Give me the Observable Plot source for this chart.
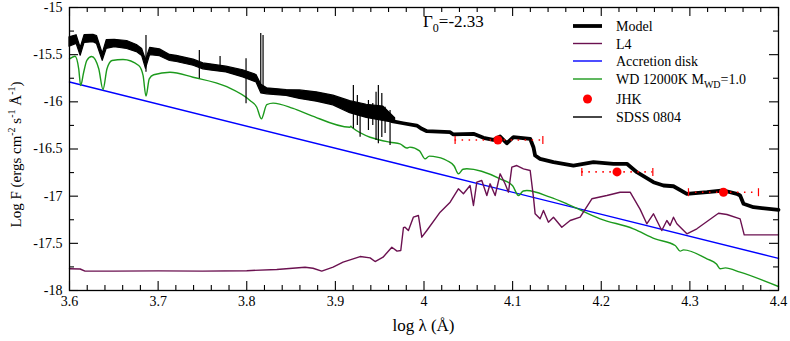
<!DOCTYPE html>
<html><head><meta charset="utf-8">
<script src="https://cdn.jsdelivr.net/npm/d3@7"></script>
<script src="https://cdn.jsdelivr.net/npm/@observablehq/plot@0.6"></script>
<style>
body{margin:0;background:#fff}
#chart svg, #chart svg text{font-family:"Liberation Serif","Times New Roman",Times,Tinos,"Noto Serif","DejaVu Serif",FreeSerif,serif !important}
</style>
</head><body><div id="chart"></div>
<script>
// ---------- data ----------
const xMajor = [3.6,3.7,3.8,3.9,4.0,4.1,4.2,4.3,4.4];
const xTickLabels = ["3.6","3.7","3.8","3.9","4","4.1","4.2","4.3","4.4"];
const xMinor = [3.62,3.64,3.66,3.68,3.72,3.74,3.76,3.78,3.82,3.84,3.86,3.88,3.92,3.94,3.96,3.98,
                4.02,4.04,4.06,4.08,4.12,4.14,4.16,4.18,4.22,4.24,4.26,4.28,4.32,4.34,4.36,4.38];
const yMajor = [-18,-17.5,-17,-16.5,-16,-15.5,-15];
const yTickLabels = ["-18","-17.5","-17","-16.5","-16","-15.5","-15"];
const yMinor = [-17.75,-17.25,-16.75,-16.25,-15.75,-15.25];

// Accretion disk
const diskX = [3.6, 4.0, 4.4];
const diskY = [-15.79, -16.725, -17.66];

// WD 12000K
const wdX = [3.6,3.6062,3.6104,3.6126,3.616,3.6196,3.6251,3.633,3.6378,3.6423,3.648,3.6604,3.6781,3.683,3.6863,3.69,3.695,3.7134,3.7394,3.7774,3.8037,3.8113,3.8165,3.8226,3.8297,3.8523,3.8714,3.9165,3.9175,3.9185,3.9616,3.9729,3.9806,3.984,3.995,4.0012,4.006,4.0103,4.0257,4.034,4.0388,4.044,4.0483,4.0859,4.1,4.1066,4.112,4.116,4.1423,4.1612,4.1988,4.2363,4.2608,4.2834,4.289,4.2928,4.3192,4.33,4.3342,4.3399,4.3567,4.4];
const wdY = [-15.544,-15.516,-15.65,-15.827,-15.686,-15.56,-15.52,-15.65,-15.869,-15.65,-15.562,-15.552,-15.615,-15.72,-15.94,-15.756,-15.713,-15.686,-15.739,-15.84,-15.986,-16.057,-16.18,-16.03,-16.014,-16.07,-16.14,-16.269,-16.258,-16.27,-16.428,-16.445,-16.49,-16.48,-16.52,-16.604,-16.575,-16.578,-16.622,-16.68,-16.763,-16.715,-16.71,-16.816,-16.89,-16.993,-16.945,-16.94,-17.011,-17.081,-17.24,-17.346,-17.452,-17.523,-17.583,-17.569,-17.664,-17.72,-17.77,-17.76,-17.806,-17.958];

// L4 brown dwarf
const l4X = [3.6,3.612,3.6175,3.65,3.7,3.75,3.8,3.8339,3.8658,3.8748,3.8846,3.8974,3.9087,3.9279,3.9392,3.9448,3.9538,3.9637,3.9696,3.9738,3.9768,3.9786,3.9824,3.988,3.9937,3.9975,4.0032,4.0182,4.0295,4.0388,4.0445,4.052,4.0558,4.0596,4.0652,4.0709,4.0746,4.0803,4.0859,4.0915,4.0953,4.0991,4.1047,4.1122,4.1198,4.1235,4.1254,4.131,4.1348,4.1404,4.1461,4.1555,4.1649,4.1762,4.1894,4.2063,4.2213,4.2326,4.2439,4.2514,4.2589,4.2627,4.2683,4.274,4.2777,4.2815,4.2853,4.2966,4.3079,4.3323,4.3418,4.3567,4.3613,4.4];
const l4Y = [-17.77,-17.772,-17.795,-17.795,-17.792,-17.795,-17.79,-17.777,-17.753,-17.764,-17.795,-17.753,-17.7,-17.64,-17.654,-17.693,-17.647,-17.541,-17.583,-17.576,-17.335,-17.329,-17.364,-17.223,-17.205,-17.435,-17.364,-17.17,-17.064,-16.922,-16.975,-16.887,-17.099,-16.852,-16.834,-16.993,-16.869,-16.993,-16.763,-16.869,-16.958,-16.693,-16.675,-16.71,-16.728,-17.011,-17.187,-17.24,-17.152,-17.276,-17.223,-17.329,-17.258,-17.223,-17.028,-16.993,-16.958,-16.958,-17.14,-17.293,-17.187,-17.258,-17.364,-17.258,-17.311,-17.223,-17.293,-17.399,-17.346,-17.181,-17.194,-17.24,-17.41,-17.41];

// Model (sum)
const modelX = [3.9637,3.9764,3.9919,3.9975,4.0032,4.0295,4.0332,4.0558,4.0671,4.0783,4.0859,4.0934,4.1009,4.1198,4.1235,4.1254,4.131,4.1461,4.1686,4.1912,4.2138,4.2289,4.2402,4.2589,4.2702,4.2815,4.2966,4.3192,4.3379,4.353,4.3567,4.3605,4.3718,4.4];
const modelY = [-16.205,-16.227,-16.251,-16.286,-16.311,-16.322,-16.346,-16.339,-16.381,-16.403,-16.368,-16.439,-16.375,-16.392,-16.481,-16.569,-16.604,-16.64,-16.675,-16.64,-16.657,-16.657,-16.746,-16.852,-16.887,-16.895,-16.975,-16.958,-16.94,-16.975,-16.993,-17.081,-17.117,-17.145];

// SDSS 0804 spectrum: noisy band (upper / lower envelope) and spikes
const sdssX  = [3.6,3.608,3.6126,3.617,3.627,3.631,3.6375,3.642,3.651,3.665,3.676,3.682,3.6863,3.691,3.702,3.7134,3.721,3.74,3.751,3.759,3.777,3.796,3.811,3.8165,3.823,3.845,3.86,3.879,3.8978,3.9166,3.9354,3.9542,3.9674];
const sdssHi = [-15.297,-15.276,-15.413,-15.276,-15.276,-15.286,-15.474,-15.329,-15.329,-15.339,-15.382,-15.424,-15.541,-15.413,-15.43,-15.49,-15.5,-15.54,-15.58,-15.59,-15.615,-15.65,-15.7,-15.8,-15.845,-15.862,-15.862,-15.88,-15.915,-15.968,-16.004,-16.021,-16.163];
const sdssLo = [-15.435,-15.403,-15.527,-15.392,-15.382,-15.403,-15.58,-15.456,-15.435,-15.456,-15.488,-15.53,-15.668,-15.519,-15.53,-15.58,-15.59,-15.63,-15.668,-15.68,-15.7,-15.756,-15.81,-15.93,-15.933,-15.95,-15.986,-16.018,-16.057,-16.145,-16.198,-16.233,-16.233];
const spikeX  = [3.6863,3.7465,3.7699,3.7992,3.8158,3.8184,3.9203,3.9248,3.9279,3.9373,3.9422,3.9459,3.9485,3.9524,3.9561,3.9617];
const spikeHi = [-15.297,-15.456,-15.519,-15.544,-15.276,-15.297,-15.827,-15.933,-16.057,-15.986,-16.018,-15.898,-15.827,-15.912,-16.057,-16.092];
const spikeLo = [-15.686,-15.756,-15.668,-16.021,-15.88,-15.859,-16.286,-16.251,-16.375,-16.304,-16.251,-16.41,-16.445,-16.378,-16.336,-16.463];

// JHK photometry
const jhkX  = [4.0834, 4.2178, 4.3379];
const jhkY  = [-16.405, -16.743, -16.958];
const jhkLo = [4.0351, 4.1781, 4.2984];
const jhkHi = [4.1341, 4.2582, 4.3774];

const legendLabels = ["Model","L4","Accretion disk","WD 12000K M","JHK","SDSS 0804"];

// ---------- build ----------
const pts = (xs, ys) => xs.map((x, i) => ({x, y: ys[i]}));
const disk = pts(diskX, diskY), wd = pts(wdX, wdY), l4 = pts(l4X, l4Y), model = pts(modelX, modelY);
const sdss = sdssX.map((x, i) => {
  const m = (sdssHi[i] + sdssLo[i]) / 2, h = (sdssHi[i] - sdssLo[i]) / 2;
  return {x, hi: m + 0.72 * h, lo: m - 0.72 * h};
});
const spikes = spikeX.map((x, i) => ({x, hi: spikeHi[i], lo: spikeLo[i]}));
const jhk = jhkX.map((x, i) => ({x, y: jhkY[i], lo: jhkLo[i], hi: jhkHi[i]}));
const caps = jhk.flatMap(d => [{x: d.lo, y: d.y}, {x: d.hi, y: d.y}]);

const W = 790, H = 341, mL = 69, mR = 12, mT = 7, mB = 51;
const PW = W - mL - mR, PH = H - mT - mB;
const C = {model: "#000", l4: "#6b1150", disk: "#0000ff", wd: "#1c9a1c", jhk: "#ff0000", sdss: "#000"};
const xLab = new Map(xMajor.map((v, i) => [v, xTickLabels[i]]));
const yLab = new Map(yMajor.map((v, i) => [v, yTickLabels[i]]));
const vbar = {draw(ctx, size) { const h = Math.sqrt(size / Math.PI); ctx.moveTo(0, -h); ctx.lineTo(0, h); }};
const serif = '"Liberation Serif","Times New Roman",Times,Tinos,"Noto Serif","DejaVu Serif",serif';

const chart = Plot.plot({
  width: W, height: H, marginLeft: mL, marginRight: mR, marginTop: mT, marginBottom: mB,
  style: {fontFamily: serif, fontSize: "14px", background: "#fff", color: "#000"},
  x: {domain: [3.6, 4.4]},
  y: {domain: [-18, -15]},
  marks: [
    Plot.line(disk, {x: "x", y: "y", stroke: C.disk, strokeWidth: 1.4}),
    Plot.line(wd, {x: "x", y: "y", stroke: C.wd, strokeWidth: 1.4, curve: "monotone-x"}),
    Plot.line(l4, {x: "x", y: "y", stroke: C.l4, strokeWidth: 1.4}),
    Plot.areaY(sdss, {x: "x", y1: "lo", y2: "hi", fill: C.sdss, stroke: C.sdss, strokeWidth: 1.2}),
    Plot.ruleX(spikes, {x: "x", y1: "lo", y2: "hi", stroke: C.sdss, strokeWidth: 1.2}),
    Plot.line(model, {x: "x", y: "y", stroke: C.model, strokeWidth: 3.8, strokeLinejoin: "round"}),
    Plot.ruleY(jhk, {x1: "lo", x2: "hi", y: "y", stroke: C.jhk, strokeWidth: 1.6, strokeDasharray: "1.5,5.5"}),
    Plot.dot(caps, {x: "x", y: "y", symbol: vbar, r: 4, stroke: C.jhk, strokeWidth: 1.2}),
    Plot.dot(jhk, {x: "x", y: "y", r: 4.5, fill: C.jhk, stroke: "none"}),
    Plot.ruleX(xMajor, {x: d => d, insetTop: PH - 9, stroke: "#000", strokeWidth: 1.1}),
    Plot.ruleX(xMinor, {x: d => d, insetTop: PH - 5, stroke: "#000", strokeWidth: 1.1}),
    Plot.ruleX(xMajor, {x: d => d, insetBottom: PH - 9, stroke: "#000", strokeWidth: 1.1}),
    Plot.ruleX(xMinor, {x: d => d, insetBottom: PH - 5, stroke: "#000", strokeWidth: 1.1}),
    Plot.ruleY(yMajor, {y: d => d, insetRight: PW - 9, stroke: "#000", strokeWidth: 1.1}),
    Plot.ruleY(yMinor, {y: d => d, insetRight: PW - 5, stroke: "#000", strokeWidth: 1.1}),
    Plot.ruleY(yMajor, {y: d => d, insetLeft: PW - 9, stroke: "#000", strokeWidth: 1.1}),
    Plot.ruleY(yMinor, {y: d => d, insetLeft: PW - 5, stroke: "#000", strokeWidth: 1.1}),
    Plot.axisX(xMajor, {tickSize: 0, tickPadding: 6, tickFormat: d => xLab.get(d), label: null, fontSize: 14}),
    Plot.axisY(yMajor, {tickSize: 0, tickPadding: 7, tickFormat: d => yLab.get(d), label: null, fontSize: 14}),
    Plot.frame({stroke: "#000", strokeWidth: 1.3})
  ]
});
document.getElementById("chart").appendChild(chart);

// ---------- text: labels, title, legend ----------
const svg = d3.select(chart);

svg.append("text").attr("x", mL + PW / 2).attr("y", 331).attr("text-anchor", "middle")
  .attr("font-size", 17).attr("fill", "#000").text("log λ (Å)");

const yl = svg.append("text").attr("transform", `translate(21,${mT + PH / 2 + 6}) rotate(-90)`)
  .attr("text-anchor", "middle").attr("font-size", 15).attr("fill", "#000");
yl.append("tspan").text("Log F (ergs cm");
yl.append("tspan").attr("dy", -6).attr("font-size", 10).text("-2");
yl.append("tspan").attr("dy", 6).text(" s");
yl.append("tspan").attr("dy", -6).attr("font-size", 10).text("-1");
yl.append("tspan").attr("dy", 6).text(" Å");
yl.append("tspan").attr("dy", -6).attr("font-size", 10).text("-1");
yl.append("tspan").attr("dy", 6).text(")");

const tt = svg.append("text").attr("x", 423).attr("y", 27).attr("text-anchor", "start")
  .attr("font-size", 17).attr("fill", "#000");
tt.append("tspan").text("Γ");
tt.append("tspan").attr("dy", 5).attr("font-size", 12).text("0");
tt.append("tspan").attr("dy", -5).text("=-2.33");

const lx1 = 573, lx2 = 602, tx = 616;
const rowsY = [26, 43.5, 61, 79, 99, 117];
const lg = svg.append("g").attr("font-size", 14).attr("fill", "#000").attr("text-anchor", "start");
const styles = [
  {stroke: C.model, w: 3.8}, {stroke: C.l4, w: 1.4}, {stroke: C.disk, w: 1.4},
  {stroke: C.wd, w: 1.4}, null, {stroke: "#333", w: 1.8}
];
legendLabels.forEach((lab, i) => {
  const y = rowsY[i];
  if (styles[i]) {
    lg.append("line").attr("x1", lx1).attr("x2", lx2).attr("y1", y).attr("y2", y)
      .attr("stroke", styles[i].stroke).attr("stroke-width", styles[i].w);
  } else {
    lg.append("circle").attr("cx", (lx1 + lx2) / 2).attr("cy", y).attr("r", 4.5).attr("fill", C.jhk);
  }
  const t = lg.append("text").attr("x", tx).attr("y", y + 5).attr("text-anchor", "start");
  t.append("tspan").text(lab);
  if (i === 3) {
    t.append("tspan").attr("dy", 4).attr("font-size", 10).text("WD");
    t.append("tspan").attr("dy", -4).text("=1.0");
  }
});
</script>
</body></html>
